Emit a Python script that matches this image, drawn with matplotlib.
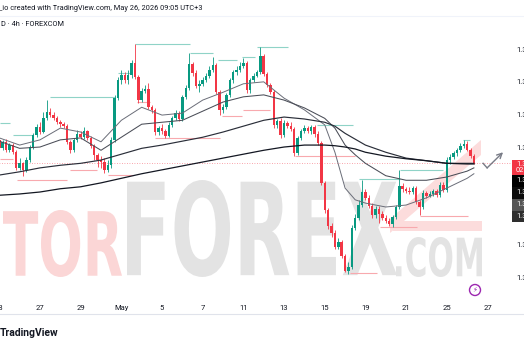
import numpy as np
import matplotlib
matplotlib.use("Agg")
import matplotlib.pyplot as plt
from matplotlib.patches import Rectangle, Circle, PathPatch, Polygon
from matplotlib.textpath import TextPath
from matplotlib.font_manager import FontProperties
from matplotlib.transforms import Affine2D

plt.rcParams['font.family'] = ['Roboto', 'DejaVu Sans']

###############################################################################
# Data (4h candles)
###############################################################################

first_open = 1.3561
close = [
    1.3548, 1.3558, 1.3545, 1.3553, 1.3542, 1.3518, 1.3525, 1.3515, 1.3530, 1.3550,
    1.3568, 1.3581, 1.3573, 1.3594, 1.3604, 1.3599, 1.3594, 1.3588, 1.3585, 1.3582,
    1.3558, 1.3545, 1.3561, 1.3570, 1.3565, 1.3575, 1.3564, 1.3552, 1.3538, 1.3530,
    1.3527, 1.3515, 1.3522, 1.3561, 1.3625, 1.3653, 1.3660, 1.3653, 1.3660, 1.3679,
    1.3657, 1.3622, 1.3636, 1.3639, 1.3611, 1.3607, 1.3573, 1.3579, 1.3575, 1.3567,
    1.3584, 1.3594, 1.3602, 1.3593, 1.3627, 1.3641, 1.3677, 1.3664, 1.3644, 1.3647,
    1.3653, 1.3659, 1.3668, 1.3676, 1.3634, 1.3607, 1.3611, 1.3630, 1.3653, 1.3665,
    1.3668, 1.3674, 1.3679, 1.3637, 1.3653, 1.3659, 1.3665, 1.3690, 1.3662, 1.3645,
    1.3634, 1.3584, 1.3590, 1.3568, 1.3587, 1.3582, 1.3578, 1.3541, 1.3564, 1.3575,
    1.3579, 1.3575, 1.3581, 1.3570, 1.3556, 1.3495, 1.3453, 1.3429, 1.3418, 1.3396,
    1.3404, 1.3383, 1.3360, 1.3366, 1.3426, 1.3441, 1.3461, 1.3481, 1.3472, 1.3459,
    1.3446, 1.3455, 1.3447, 1.3441, 1.3436, 1.3432, 1.3443, 1.3458, 1.3490, 1.3486,
    1.3483, 1.3481, 1.3487, 1.3466, 1.3458, 1.3479, 1.3475, 1.3478, 1.3483, 1.3476,
    1.3492, 1.3484, 1.3530, 1.3535, 1.3541, 1.3545, 1.3552, 1.3555, 1.3545, 1.3536,
    1.3525]
high = [
    1.3565, 1.3561, 1.3562, 1.3556, 1.3556, 1.3545, 1.3533, 1.3527, 1.3535, 1.3553,
    1.3571, 1.3585, 1.3588, 1.3604, 1.3622, 1.3610, 1.3604, 1.3598, 1.3591, 1.3588,
    1.3585, 1.3561, 1.3564, 1.3576, 1.3575, 1.3581, 1.3576, 1.3567, 1.3555, 1.3541,
    1.3536, 1.3533, 1.3530, 1.3565, 1.3630, 1.3657, 1.3668, 1.3665, 1.3668, 1.3683,
    1.3708, 1.3660, 1.3641, 1.3645, 1.3648, 1.3614, 1.3610, 1.3582, 1.3585, 1.3578,
    1.3588, 1.3598, 1.3607, 1.3605, 1.3630, 1.3645, 1.3694, 1.3680, 1.3668, 1.3653,
    1.3657, 1.3664, 1.3674, 1.3688, 1.3679, 1.3637, 1.3616, 1.3633, 1.3656, 1.3668,
    1.3674, 1.3680, 1.3687, 1.3682, 1.3656, 1.3664, 1.3668, 1.3703, 1.3693, 1.3665,
    1.3648, 1.3637, 1.3593, 1.3594, 1.3591, 1.3590, 1.3588, 1.3581, 1.3567, 1.3578,
    1.3584, 1.3582, 1.3584, 1.3584, 1.3575, 1.3559, 1.3498, 1.3456, 1.3433, 1.3423,
    1.3410, 1.3407, 1.3386, 1.3374, 1.3430, 1.3447, 1.3469, 1.3499, 1.3486, 1.3476,
    1.3464, 1.3459, 1.3459, 1.3452, 1.3446, 1.3441, 1.3446, 1.3461, 1.3515, 1.3495,
    1.3489, 1.3489, 1.3490, 1.3490, 1.3469, 1.3484, 1.3483, 1.3483, 1.3486, 1.3486,
    1.3496, 1.3496, 1.3535, 1.3539, 1.3544, 1.3548, 1.3556, 1.3561, 1.3559, 1.3548,
    1.3539]
low = [
    1.3545, 1.3545, 1.3542, 1.3542, 1.3539, 1.3515, 1.3515, 1.3506, 1.3512, 1.3527,
    1.3547, 1.3565, 1.3570, 1.3571, 1.3591, 1.3596, 1.3591, 1.3585, 1.3581, 1.3579,
    1.3555, 1.3541, 1.3542, 1.3558, 1.3562, 1.3562, 1.3561, 1.3548, 1.3530, 1.3519,
    1.3518, 1.3510, 1.3512, 1.3518, 1.3558, 1.3622, 1.3647, 1.3648, 1.3647, 1.3656,
    1.3654, 1.3618, 1.3619, 1.3633, 1.3608, 1.3602, 1.3568, 1.3568, 1.3570, 1.3564,
    1.3565, 1.3581, 1.3591, 1.3590, 1.3590, 1.3624, 1.3637, 1.3659, 1.3641, 1.3634,
    1.3644, 1.3650, 1.3656, 1.3665, 1.3631, 1.3599, 1.3602, 1.3608, 1.3627, 1.3648,
    1.3660, 1.3665, 1.3671, 1.3633, 1.3633, 1.3650, 1.3657, 1.3662, 1.3659, 1.3642,
    1.3631, 1.3579, 1.3579, 1.3564, 1.3565, 1.3579, 1.3575, 1.3536, 1.3538, 1.3561,
    1.3571, 1.3571, 1.3570, 1.3565, 1.3553, 1.3492, 1.3449, 1.3424, 1.3412, 1.3393,
    1.3393, 1.3380, 1.3358, 1.3355, 1.3363, 1.3423, 1.3438, 1.3458, 1.3469, 1.3456,
    1.3441, 1.3441, 1.3433, 1.3438, 1.3433, 1.3429, 1.3427, 1.3439, 1.3455, 1.3481,
    1.3479, 1.3478, 1.3478, 1.3463, 1.3446, 1.3455, 1.3472, 1.3473, 1.3475, 1.3473,
    1.3473, 1.3481, 1.3481, 1.3524, 1.3532, 1.3536, 1.3542, 1.3548, 1.3544, 1.3533,
    1.3524]

# date labels, one every 12 candles
date_ticks = [0, 12, 24, 36, 48, 60, 72, 84, 96, 108, 120, 132, 144]
date_labels = ["23", "27", "29", "May", "5", "7", "11", "13", "15", "19", "21", "25", "27"]

# moving averages, sampled along the chart
ma_idx = [0, 6, 12, 18, 24, 30, 36, 42, 48, 54, 60, 66, 72, 78, 84, 90, 96, 99, 102,
          105, 108, 114, 120, 126, 132, 138, 140]
ma_fast = [1.3564, 1.3553, 1.3561, 1.3579, 1.3573, 1.3558, 1.3591, 1.3611, 1.3599, 1.3602,
           1.3622, 1.3634, 1.3647, 1.3650, 1.3625, 1.3607, 1.3584, 1.3542, 1.3487, 1.3469,
           1.3464, 1.3458, 1.3461, 1.3472, 1.3487, 1.3502, 1.3509]
ma_mid = [1.3559, 1.3548, 1.3550, 1.3561, 1.3564, 1.3545, 1.3565, 1.3585, 1.3588, 1.3591,
          1.3605, 1.3619, 1.3627, 1.3630, 1.3622, 1.3610, 1.3594, 1.3579, 1.3553, 1.3538,
          1.3525, 1.3506, 1.3499, 1.3499, 1.3504, 1.3513, 1.3518]
ma_slow = [1.3507, 1.3512, 1.3518, 1.3522, 1.3525, 1.3530, 1.3539, 1.3548, 1.3553, 1.3559,
           1.3565, 1.3573, 1.3582, 1.3591, 1.3596, 1.3593, 1.3588, 1.3582, 1.3571, 1.3562,
           1.3553, 1.3542, 1.3533, 1.3529, 1.3525, 1.3525, 1.3525]
ma_long = [1.3476, 1.3478, 1.3481, 1.3486, 1.3489, 1.3495, 1.3502, 1.3509, 1.3515, 1.3521,
           1.3527, 1.3533, 1.3539, 1.3545, 1.3550, 1.3553, 1.3553, 1.3552, 1.3550, 1.3547,
           1.3542, 1.3536, 1.3532, 1.3529, 1.3525, 1.3524, 1.3524]

# swing high / low levels (price, from candle, to candle)
res_price = [1.3587, 1.3568, 1.3627, 1.3664, 1.3708, 1.3694, 1.3683, 1.3688, 1.3703,
             1.3584, 1.3501, 1.3515, 1.3561]
res_start = [0.2, 4.0, 15.0, 35.0, 40.0, 56.3, 64.5, 71.6, 76.0, 93.7, 106.1, 118.2, 136.8]
res_end = [3.2, 9.9, 34.1, 38.6, 56.3, 63.0, 70.1, 75.4, 85.2, 104.3, 118.2, 130.9, 138.9]
sup_price = [1.3532, 1.3499, 1.3515, 1.3507, 1.3619, 1.3564, 1.3598, 1.3607, 1.3536,
             1.3357, 1.3427, 1.3444]
sup_start = [0.2, 5.2, 20.9, 32.1, 40.6, 46.0, 65.7, 71.9, 87.2, 103.4, 112.3, 124.1]
sup_end = [4.0, 20.0, 28.8, 39.4, 44.4, 65.1, 71.6, 79.9, 104.9, 111.4, 123.2, 138.3]

# projection arrow drawn on the chart
proj_idx = [142.7, 143.9, 148.6]
proj_price = [1.3525, 1.3518, 1.3542]

price_ticks = [1.3350, 1.3400, 1.3450, 1.3500, 1.3550, 1.3600, 1.3650, 1.3700]
countdown = "02:54:48"

###############################################################################
# Styling
###############################################################################

W, H = 524, 350
UP, DOWN = "#089981", "#f23645"
TEXT = "#131722"

fig = plt.figure(figsize=(W / 100, H / 100), dpi=100)
fig.patch.set_facecolor("white")


def px_axes(z):
    a = fig.add_axes([0, 0, 1, 1], zorder=z)
    a.set_xlim(0, W)
    a.set_ylim(H, 0)
    a.axis("off")
    a.patch.set_alpha(0)
    return a


def fitted_text(a, s, x0, x1, y_top, y_bot, color):
    tp = TextPath((0, 0), s, size=100, prop=FontProperties(family="DejaVu Sans", weight="bold"))
    bb = tp.get_extents()
    tr = (Affine2D().translate(-bb.x0, -bb.y0)
          .scale((x1 - x0) / bb.width, -(y_bot - y_top) / bb.height)
          .translate(x0, y_bot))
    a.add_patch(PathPatch(tr.transform_path(tp), fc=color, ec="none", lw=0))


# watermark in the background
bg = px_axes(0)
fitted_text(bg, "TOR", 3, 122, 210, 277, "#fbd6d6")
fitted_text(bg, "FOREX", 127, 397, 180, 277, "#e3e3e3")
fitted_text(bg, ".COM", 396, 482, 237, 277, "#e3e3e3")
bg.add_patch(Rectangle((393, 221), 89, 10, fc="#fcdcdc", ec="none"))
bg.add_patch(Polygon([(390, 233), (481, 155), (481, 140), (390, 219)], closed=True,
                     fc="#fcdcdc", ec="none"))

# main price chart
left_px, right_px, top_px, bot_px = -20, 512, 16, 298
ax = fig.add_axes([left_px / W, 1 - bot_px / H, (right_px - left_px) / W, (bot_px - top_px) / H],
                  zorder=1)
ax.patch.set_alpha(0)
ax.set_xlim(-5.693, 151.24)
ax.set_ylim(1.33184, 1.37510)

o = np.array([first_open] + close[:-1])
c = np.array(close)
h = np.maximum(np.array(high), np.maximum(o, c))
l = np.minimum(np.array(low), np.minimum(o, c))
idx = np.arange(len(c))
col = np.where(c >= o, UP, DOWN)

ax.hlines(res_price, res_start, res_end, colors="#8fd3c7", lw=0.8, zorder=1)
ax.hlines(sup_price, sup_start, sup_end, colors="#f8a9ae", lw=0.8, zorder=1)
ax.axhline(close[-1], color=DOWN, lw=0.6, ls=(0, (1, 2)), alpha=0.6, zorder=1)

ax.vlines(idx, l, h, colors=col, lw=0.6, zorder=2)
ax.bar(idx, np.maximum(np.abs(c - o), 0.00003), bottom=np.minimum(o, c), width=0.72,
       color=col, lw=0, zorder=2.5)

ax.plot(ma_idx, ma_fast, color="#6a6d78", lw=0.7, zorder=3)
ax.plot(ma_idx, ma_mid, color="#4a4d57", lw=0.75, zorder=3)
ax.plot(ma_idx, ma_slow, color="#2a2e39", lw=0.85, zorder=3)
ax.plot(ma_idx, ma_long, color="#131722", lw=0.9, zorder=3)

ax.plot(proj_idx[:2], proj_price[:2], color="#787b86", lw=1.0, zorder=3)
ax.annotate("", xy=(proj_idx[2], proj_price[2]), xytext=(proj_idx[1], proj_price[1]),
            arrowprops=dict(arrowstyle="->", color="#787b86", lw=1.0, mutation_scale=9,
                            shrinkA=0, shrinkB=0), zorder=3)

for s in ax.spines.values():
    s.set_visible(False)
ax.set_xticks(date_ticks)
ax.set_xticklabels(date_labels)
ax.yaxis.tick_right()
ax.set_yticks(price_ticks)
ax.set_yticklabels([f"{p:.4f}" for p in price_ticks])
ax.tick_params(axis="x", length=0, pad=5, labelsize=5.5, labelcolor=TEXT)
ax.tick_params(axis="y", length=0, pad=3, labelsize=5.5, labelcolor=TEXT)

# overlay: headers, price boxes, footer
ov = px_axes(5)
ov.text(-1, 8, "_io created with TradingView.com, May 26, 2026 09:05 UTC+3",
        fontsize=5.3, color=TEXT, va="center", ha="left")
ov.text(1, 25, "D \u00b7 4h \u00b7 FOREXCOM", fontsize=5.3, color=TEXT, va="center", ha="left")
ov.plot([0, W], [16, 16], color="#f0f3fa", lw=0.8)

ov.add_patch(Rectangle((512, 160), 12, 15, fc=DOWN, ec="none"))
ov.text(516, 164.5, f"{close[-1]:.4f}", fontsize=5.3, color="white", va="center", ha="left")
ov.text(516, 171, countdown, fontsize=5.3, color="white", va="center", ha="left")
boxes = [(175, 12, "#000000", ma_slow[-1]), (187, 12, "#0c0c0c", ma_long[-1]),
         (199, 12, "#555555", ma_mid[-1]), (211, 11, "#2e2e2e", ma_fast[-1])]
for y0, bh, fc, v in boxes:
    ov.add_patch(Rectangle((512, y0), 12, bh, fc=fc, ec="none"))
    ov.text(516, y0 + bh / 2, f"{v:.4f}", fontsize=5.3, color="white", va="center", ha="left")

ov.add_patch(Circle((475, 290), 5.5, fc="white", ec="#9c27b0", lw=1.0))
ov.text(475, 290.3, "\u26a1", fontsize=5, color="#9c27b0", ha="center", va="center",
        family=["DejaVu Sans"])

ov.plot([0, W], [314, 314], color="#e0e3eb", lw=0.8)
ov.text(0, 333, "TradingView", fontsize=7.5, fontweight="bold", color=TEXT, va="center", ha="left")

fig.savefig("out.png", dpi=100)
